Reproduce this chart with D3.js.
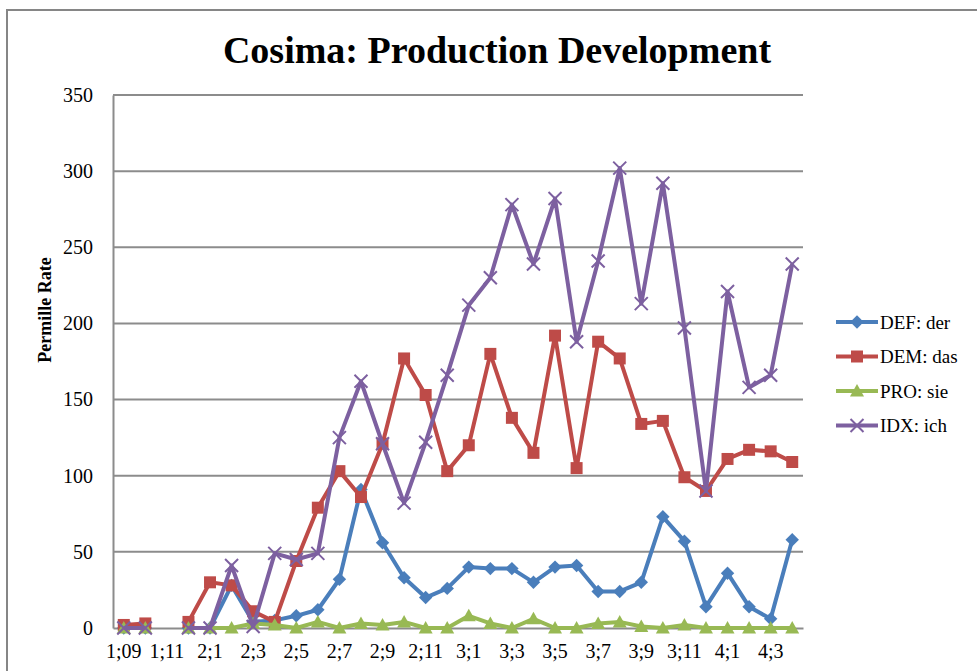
<!DOCTYPE html>
<html>
<head>
<meta charset="utf-8">
<script src="https://cdn.jsdelivr.net/npm/d3@7"></script>
<style>
  html, body { margin: 0; padding: 0; background: #fff; }
  svg { display: block; }
  text { font-family: "Liberation Serif", "Times New Roman", serif; fill: #000; }
</style>
</head>
<body>
<svg id="chart" width="977" height="671"></svg>
<script>
// Age points (years;months) along the category axis
const categories = [
  "1;09", "1;10", "1;11",
  "2;0", "2;1", "2;2", "2;3", "2;4", "2;5", "2;6", "2;7", "2;8", "2;9", "2;10", "2;11",
  "3;0", "3;1", "3;2", "3;3", "3;4", "3;5", "3;6", "3;7", "3;8", "3;9", "3;10", "3;11",
  "4;0", "4;1", "4;2", "4;3", "4;4"
];

// Permille rates per form (null = no recording)
const defDer = [0, 0, null, 0, 0, 28, 4, 5, 8, 12, 32, 91, 56, 33, 20, 26, 40, 39, 39, 30, 40, 41, 24, 24, 30, 73, 57, 14, 36, 14, 6, 58];
const demDas = [2, 3, null, 4, 30, 28, 11, 4, 44, 79, 103, 86, 121, 177, 153, 103, 120, 180, 138, 115, 192, 105, 188, 177, 134, 136, 99, 90, 111, 117, 116, 109];
const proSie = [0, 0, null, 0, 0, 0, 3, 2, 0, 4, 0, 3, 2, 4, 0, 0, 8, 3, 0, 6, 0, 0, 3, 4, 1, 0, 2, 0, 0, 0, 0, 0];
const idxIch = [0, 0, null, 0, 0, 41, 1, 49, 45, 49, 125, 162, 121, 82, 122, 166, 212, 230, 278, 239, 282, 188, 241, 302, 213, 292, 197, 90, 221, 158, 166, 239];

const yTicks = [0, 50, 100, 150, 200, 250, 300, 350];

const seriesNames = ["DEF: der", "DEM: das", "PRO: sie", "IDX: ich"];
const seriesColors = ["#4a7ebb", "#be4b48", "#98b954", "#7d60a0"];
const seriesMarkers = ["diamond", "square", "triangle", "cross"];
const seriesValues = [defDer, demDas, proSie, idxIch];

const svg = d3.select("#chart");
const W = 977, H = 671;
const plot = { left: 113, right: 803, top: 95, bottom: 628 };
const gridColor = "#8c8c8c";

svg.append("rect").attr("width", W).attr("height", H).attr("fill", "#fff");

// chart frame
svg.append("rect")
  .attr("x", 7).attr("y", 10)
  .attr("width", 1000).attr("height", 700)
  .attr("fill", "none")
  .attr("stroke", "#868686")
  .attr("stroke-width", 2);

const x = d3.scaleBand().domain(categories).range([plot.left, plot.right]).padding(0);
const cx = c => x(c) + x.bandwidth() / 2;
const y = d3.scaleLinear().domain([0, 350]).range([plot.bottom, plot.top]);

// horizontal gridlines
svg.append("g").selectAll("line")
  .data(yTicks.filter(t => t > 0))
  .join("line")
  .attr("x1", plot.left).attr("x2", plot.right)
  .attr("y1", d => y(d)).attr("y2", d => y(d))
  .attr("stroke", gridColor).attr("stroke-width", 2);

// value axis
const yAxis = d3.axisLeft(y).tickValues(yTicks).tickSize(0).tickPadding(20);
const gy = svg.append("g").attr("transform", `translate(${plot.left},0)`).call(yAxis);
gy.select(".domain").attr("stroke", gridColor).attr("stroke-width", 2);
gy.selectAll("text")
  .style("font-family", '"Liberation Serif", serif')
  .style("font-size", "20px")
  .attr("fill", "#000");

// category axis, labelled at every second category
const xAxis = d3.axisBottom(x)
  .tickValues(categories.filter((c, i) => i % 2 === 0))
  .tickSize(0).tickPadding(16);
const gx = svg.append("g").attr("transform", `translate(0,${plot.bottom})`).call(xAxis);
gx.select(".domain").attr("stroke", gridColor).attr("stroke-width", 2);
gx.selectAll("text")
  .style("font-family", '"Liberation Serif", serif')
  .style("font-size", "20px")
  .attr("fill", "#000");

// title
svg.append("text")
  .attr("x", 497).attr("y", 63)
  .attr("text-anchor", "middle")
  .style("font-size", "38px")
  .style("font-weight", "bold")
  .text("Cosima: Production Development");

// value axis title
svg.append("text")
  .attr("transform", "translate(51,310) rotate(-90)")
  .attr("text-anchor", "middle")
  .style("font-size", "18px")
  .style("font-weight", "bold")
  .text("Permille Rate");

function drawMarker(g, type, color) {
  if (type === "diamond") {
    g.append("path").attr("d", d3.symbol(d3.symbolSquare, 90)())
      .attr("transform", "rotate(45)").attr("fill", color);
  } else if (type === "square") {
    g.append("path").attr("d", d3.symbol(d3.symbolSquare, 144)()).attr("fill", color);
  } else if (type === "triangle") {
    g.append("path").attr("d", "M0,-7L7,5.5L-7,5.5Z").attr("fill", color);
  } else {
    g.append("path").attr("d", "M-6.5,-6.5L6.5,6.5M-6.5,6.5L6.5,-6.5")
      .attr("stroke", color).attr("stroke-width", 2).attr("fill", "none");
  }
}

const line = d3.line()
  .defined(d => d.v !== null)
  .x(d => cx(d.c))
  .y(d => y(d.v));

seriesValues.forEach((vals, si) => {
  const data = categories.map((c, i) => ({ c, v: vals[i] }));
  const g = svg.append("g");
  g.append("path")
    .datum(data)
    .attr("d", line)
    .attr("fill", "none")
    .attr("stroke", seriesColors[si])
    .attr("stroke-width", 4)
    .attr("stroke-linejoin", "round");
  data.filter(d => d.v !== null).forEach(d => {
    const m = g.append("g").attr("transform", `translate(${cx(d.c)},${y(d.v)})`);
    drawMarker(m, seriesMarkers[si], seriesColors[si]);
  });
});

// legend
const legend = svg.append("g");
seriesNames.forEach((name, i) => {
  const ly = 322 + i * 34.5;
  const row = legend.append("g").attr("transform", `translate(0,${ly})`);
  row.append("line").attr("x1", 836).attr("x2", 878).attr("y1", 0).attr("y2", 0)
    .attr("stroke", seriesColors[i]).attr("stroke-width", 4);
  const m = row.append("g").attr("transform", "translate(857,0)");
  drawMarker(m, seriesMarkers[i], seriesColors[i]);
  row.append("text").attr("x", 880).attr("y", 0).attr("dy", "0.35em")
    .style("font-size", "19px").text(name);
});
</script>
</body>
</html>
